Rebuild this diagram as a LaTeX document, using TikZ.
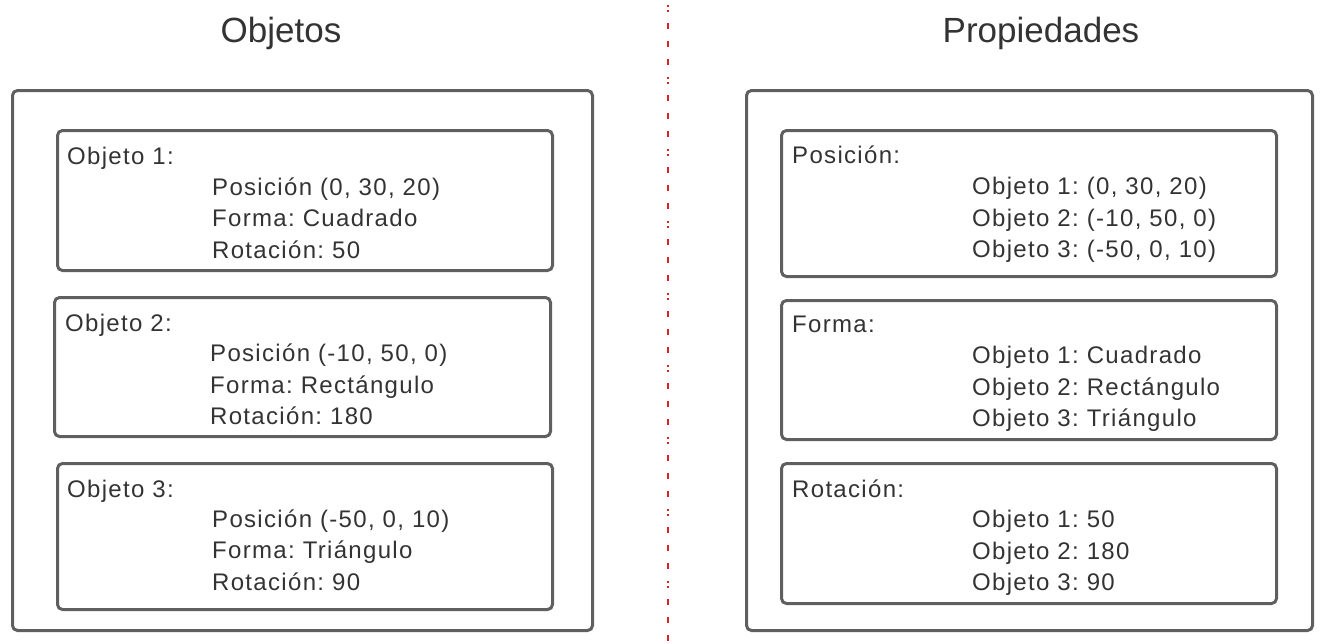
\documentclass[tikz,border=0pt]{standalone}
\usepackage{fontspec}
\setmainfont{Liberation Sans}
\newfontfamily\boxfont{Liberation Sans}[LetterSpace=5.5]
\frenchspacing
\definecolor{linegray}{RGB}{95,95,95}
\definecolor{textgray}{RGB}{51,51,51}
\definecolor{sepred}{RGB}{214,36,36}
\tikzset{
  panel/.style={draw=linegray, line width=3pt, rounded corners=5pt,
    anchor=north west, inner sep=0pt},
  heading/.style={text=textgray, font=\fontsize{35}{40}\selectfont},
  boxtext/.style={anchor=base west, align=left, inner sep=0pt, text=textgray,
    font=\boxfont\fontsize{24}{31.4}\selectfont},
}
\begin{document}
\begin{tikzpicture}[x=1pt,y=-1pt]
    \useasboundingbox (0,0) rectangle (1321,643);
    % titles
    \node[heading] (objetos) at (281,33) {Objetos};
    \node[heading] (propiedades) at (1041,33) {Propiedades};
    % separator
    \coordinate (septop) at (668,0);
    \coordinate (sepbottom) at (668,643);
    \draw[sepred, line width=2pt,
      dash pattern=on 6pt off 12pt on 6pt off 12pt on 6pt off 12pt on 1.5pt off 3.5pt on 1.5pt off 11.5pt,
      dash phase=-23pt] (septop) -- (sepbottom);
    % left side
    \node[panel, minimum width=580, minimum height=540] (left) at (11,89) {};
    \node[panel, minimum width=495, minimum height=140] (obj1) at (56,129) {};
    \node[panel, minimum width=496, minimum height=139] (obj2) at (53,296) {};
    \node[panel, minimum width=495, minimum height=146] (obj3) at (56,462) {};
    \node[boxtext] (obj1name) at (67,164.5) {Objeto 1:};
    \node[boxtext] (obj1data) at (212,258) {Posición (0, 30, 20)\\Forma: Cuadrado\\Rotación: 50};
    \node[boxtext] (obj2name) at (65,331.5) {Objeto 2:};
    \node[boxtext] (obj2data) at (210,424.5) {Posición (-10, 50, 0)\\Forma: Rectángulo\\Rotación: 180};
    \node[boxtext] (obj3name) at (67,497.5) {Objeto 3:};
    \node[boxtext] (obj3data) at (212,590) {Posición (-50, 0, 10)\\Forma: Triángulo\\Rotación: 90};
    % right side
    \node[panel, minimum width=566, minimum height=540] (right) at (745,89) {};
    \node[panel, minimum width=495, minimum height=146] (prop1) at (780,129) {};
    \node[panel, minimum width=495, minimum height=139] (prop2) at (780,299) {};
    \node[panel, minimum width=495, minimum height=140] (prop3) at (780,462) {};
    \node[boxtext] (prop1name) at (792,163.5) {Posición:};
    \node[boxtext] (prop1data) at (972,257.5) {Objeto 1: (0, 30, 20)\\Objeto 2: (-10, 50, 0)\\Objeto 3: (-50, 0, 10)};
    \node[boxtext] (prop2name) at (792,332.5) {Forma:};
    \node[boxtext] (prop2data) at (972,426.5) {Objeto 1: Cuadrado\\Objeto 2: Rectángulo\\Objeto 3: Triángulo};
    \node[boxtext] (prop3name) at (792,497.5) {Rotación:};
    \node[boxtext] (prop3data) at (972,590.5) {Objeto 1: 50\\Objeto 2: 180\\Objeto 3: 90};
\end{tikzpicture}
\end{document}
